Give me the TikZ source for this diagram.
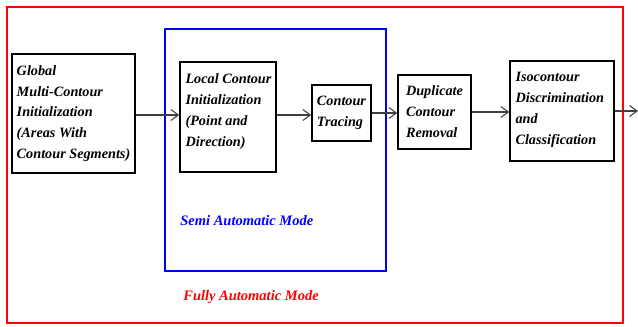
\documentclass[tikz,border=0pt]{standalone}
\usepackage{fontspec}
\setmainfont{Liberation Serif}
\usepackage{tikz}
\usetikzlibrary{arrows.meta, positioning, calc}

\begin{document}
\begin{tikzpicture}[
        stage/.style={draw, rectangle, line width=0.9pt, align=left, inner sep=2pt, font=\fontsize{8.1}{11.9}\selectfont\bfseries\itshape},
        mode/.style={draw, line width=1.2pt},
        modelabel/.style={anchor=base west, inner sep=0pt, font=\fontsize{8.25}{12}\selectfont\bfseries\itshape},
        arrow/.style={draw=black!75, line width=0.6pt, -{Straight Barb[length=1.5mm, width=2.2mm]}}
    ]
        \useasboundingbox (0,0) rectangle (12.76,-6.52);

        % the two mode frames
        \draw[mode, red] (0.14,-0.14) rectangle (12.46,-6.46);
        \draw[mode, blue] (3.30,-0.58) rectangle (7.72,-5.42);

        \node[modelabel, blue] (semi) at (3.60,-4.50) {Semi Automatic Mode};
        \node[modelabel, red] (fully) at (3.66,-6.00) {Fully Automatic Mode};

        % processing stages
        \node[stage, minimum width=2.46cm, minimum height=2.38cm] (global) at (1.47,-2.27) {Global\\Multi-Contour\\Initialization\\(Areas With\\Contour Segments)};
        \node[stage, minimum width=1.92cm, minimum height=2.20cm] (local) at (4.56,-2.34) {};
        \node[stage, draw=none, anchor=north west] (localtxt) at ($(local.north west)+(0.04,-0.16)$) {Local Contour\\Initialization\\(Point and\\Direction)};
        \node[stage, minimum width=1.18cm, minimum height=1.12cm] (trace) at (6.83,-2.26) {Contour\\Tracing};
        \node[stage, minimum width=1.46cm, minimum height=1.48cm] (dup) at (8.69,-2.24) {Duplicate\\Contour\\Removal};
        \node[stage, minimum width=2.08cm, minimum height=2.00cm] (iso) at (11.24,-2.22) {};
        \node[stage, draw=none, anchor=north west] (isotxt) at ($(iso.north west)+(0.04,-0.15)$) {Isocontour\\Discrimination\\and\\Classification};

        \coordinate (out) at (12.76,-2.24);
        \coordinate (a1) at ($(global.east)+(0,-0.03)$);
        \coordinate (a2) at ($(local.east)+(0,0.04)$);

        \draw[arrow] (a1) -- (a1 -| local.west);
        \draw[arrow] (a2) -- (a2 -| trace.west);
        \draw[arrow] (trace.east) -- (trace.east -| dup.west);
        \draw[arrow] (dup.east) -- (dup.east -| iso.west);
        \draw[arrow] (iso.east) -- (iso.east -| out);

    \end{tikzpicture}
\end{document}
